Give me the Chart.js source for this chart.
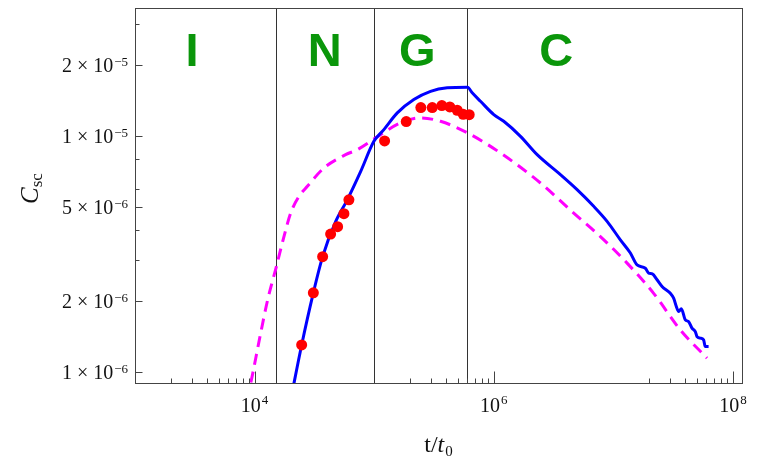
<!DOCTYPE html>
<html>
<head>
<meta charset="utf-8">
<script src="https://cdn.jsdelivr.net/npm/chart.js@4.4.0/dist/chart.umd.min.js"></script>
<style>
  html, body { margin: 0; padding: 0; background: #fff; }
</style>
</head>
<body>
<canvas id="chart" width="763" height="460"></canvas>
<script>
// solid blue model curve
const modelT = [20030, 24750, 30990, 37060, 47600, 59600, 76970, 99430, 1.205e5, 1.56e5, 2.146e5, 2.96e5, 4.08e5, 6.03e5,
    6.6e5, 7.74e5, 1.0e6, 1.212e6, 1.672e6, 2.305e6, 3.607e6, 4.973e6, 6.845e6, 8.86e6, 1.144e7, 1.387e7, 1.578e7,
    1.851e7, 1.972e7, 2.118e7, 2.318e7, 2.553e7, 2.994e7, 3.19e7, 3.36e7, 3.513e7, 3.70e7, 3.995e7, 4.256e7, 4.544e7,
    4.842e7, 5.003e7, 5.33e7, 5.68e7, 5.87e7, 6.254e7];
const modelC = [7.63e-7, 1.305e-6, 2.17e-6, 3.09e-6, 4.35e-6, 5.38e-6, 7.08e-6, 9.52e-6, 1.068e-5, 1.257e-5, 1.432e-5,
    1.552e-5, 1.605e-5, 1.614e-5, 1.529e-5, 1.408e-5, 1.236e-5, 1.158e-5, 1.0e-5, 8.36e-6, 6.88e-6, 5.94e-6, 5.05e-6,
    4.36e-6, 3.64e-6, 3.20e-6, 2.85e-6, 2.76e-6, 2.63e-6, 2.61e-6, 2.465e-6, 2.31e-6, 2.16e-6, 2.06e-6, 1.90e-6,
    1.808e-6, 1.857e-6, 1.667e-6, 1.64e-6, 1.537e-6, 1.487e-6, 1.416e-6, 1.394e-6, 1.371e-6, 1.284e-6, 1.284e-6];

// dashed magenta curve
const altT = [8590, 9277, 11240, 12860, 15210, 17600, 20030, 23490, 27620, 38010, 57680, 72260, 1.131e5, 1.662e5,
    2.442e5, 3.586e5, 6.03e5, 1.138e6, 2.456e6, 4.661e6, 7.79e6, 1.302e7, 2.171e7, 3.628e7, 6.065e7];
const altC = [7.63e-7, 8.98e-7, 1.464e-6, 2.027e-6, 2.806e-6, 3.76e-6, 4.73e-6, 5.56e-6, 6.14e-6, 7.34e-6, 8.36e-6,
    8.78e-6, 1.017e-5, 1.14e-5, 1.197e-5, 1.158e-5, 1.034e-5, 8.50e-6, 6.34e-6, 4.73e-6, 3.76e-6, 2.90e-6, 2.16e-6,
    1.511e-6, 1.147e-6];

// red data points
const obsT = [24750, 30990, 37060, 43220, 49450, 55830, 61450, 1.222e5, 1.854e5, 2.455e5, 3.058e5, 3.679e5, 4.29e5,
    4.945e5, 5.55e5, 6.23e5];
const obsC = [1.305e-6, 2.17e-6, 3.09e-6, 3.85e-6, 4.14e-6, 4.70e-6, 5.38e-6, 9.56e-6, 1.155e-5, 1.324e-5, 1.324e-5,
    1.35e-5, 1.333e-5, 1.29e-5, 1.24e-5, 1.236e-5];

// regime boundaries and names
const boundaries = [1.52e4, 1e5, 6e5];
const regimeNames = ['I', 'N', 'G', 'C'];
const regimeT = [3.0e3, 3.85e4, 2.29e5, 3.32e6];
const regimeC = 1.98e-5;

// tick labels
const xMajor = [1e4, 1e6, 1e8];
const xMajorExp = ['4', '6', '8'];
const yMajor = [1e-6, 2e-6, 5e-6, 1e-5, 2e-5];
const yMajorMant = ['1', '2', '5', '1', '2'];
const yMajorExp = ['\u22126', '\u22126', '\u22126', '\u22125', '\u22125'];
const yMinor = [3e-6, 4e-6, 6e-6, 8e-6, 3e-5];

const xMinor = [];
[1e3, 1e5, 1e7].forEach(d => {
    for (let j = 2; j <= 9; j++) xMinor.push(j * d);
});

const toPts = (xs, ys) => xs.map((x, i) => ({ x, y: ys[i] }));

const SERIF = '"Liberation Serif", "DejaVu Serif", serif';
const AXIS = '#444';

const framePlugin = {
    id: 'frame',
    beforeDatasetsDraw(chart) {
        const { ctx, chartArea: a, scales: { x, y } } = chart;
        ctx.save();
        ctx.strokeStyle = '#333';
        ctx.lineWidth = 1;
        boundaries.forEach(b => {
            const px = Math.round(x.getPixelForValue(b)) + 0.5;
            ctx.beginPath();
            ctx.moveTo(px, a.top);
            ctx.lineTo(px, a.bottom);
            ctx.stroke();
        });
        ctx.fillStyle = 'rgb(10,150,10)';
        ctx.font = 'bold 47px "Liberation Sans", Arial, sans-serif';
        ctx.textAlign = 'center';
        ctx.textBaseline = 'alphabetic';
        regimeNames.forEach((n, i) => {
            ctx.fillText(n, x.getPixelForValue(regimeT[i]), y.getPixelForValue(regimeC));
        });
        ctx.restore();
    },
    afterDraw(chart) {
        const { ctx, chartArea: a, scales: { x, y } } = chart;
        const L = Math.round(a.left) + 0.5, R = Math.round(a.right) + 0.5;
        const T = Math.round(a.top) + 0.5, B = Math.round(a.bottom) + 0.5;
        ctx.save();
        ctx.strokeStyle = AXIS;
        ctx.lineWidth = 1;
        ctx.strokeRect(L, T, R - L, B - T);

        // inward ticks
        ctx.beginPath();
        xMajor.forEach(v => {
            const px = Math.round(x.getPixelForValue(v)) + 0.5;
            ctx.moveTo(px, B); ctx.lineTo(px, B - 12);
        });
        xMinor.forEach(v => {
            const px = Math.round(x.getPixelForValue(v)) + 0.5;
            ctx.moveTo(px, B); ctx.lineTo(px, B - 5);
        });
        yMajor.forEach(v => {
            const py = Math.round(y.getPixelForValue(v)) + 0.5;
            ctx.moveTo(L, py); ctx.lineTo(L + 7, py);
        });
        yMinor.forEach(v => {
            const py = Math.round(y.getPixelForValue(v)) + 0.5;
            ctx.moveTo(L, py); ctx.lineTo(L + 4, py);
        });
        ctx.stroke();

        // tick labels
        ctx.fillStyle = '#111';
        ctx.textBaseline = 'alphabetic';
        ctx.textAlign = 'left';
        xMajor.forEach((v, i) => {
            const px = x.getPixelForValue(v);
            ctx.font = '20px ' + SERIF;
            const w1 = ctx.measureText('10').width;
            ctx.font = '13px ' + SERIF;
            const w2 = ctx.measureText(xMajorExp[i]).width;
            const x0 = px - (w1 + w2 + 1) / 2;
            ctx.font = '20px ' + SERIF;
            ctx.fillText('10', x0, 412);
            ctx.font = '13px ' + SERIF;
            ctx.fillText(xMajorExp[i], x0 + w1 + 1, 404);
        });
        yMajor.forEach((v, i) => {
            const py = y.getPixelForValue(v) + 7;
            ctx.font = '13px ' + SERIF;
            const wE = ctx.measureText(yMajorExp[i]).width;
            ctx.font = '20px ' + SERIF;
            const main = yMajorMant[i] + ' \u00d7 10';
            const wM = ctx.measureText(main).width;
            const xr = 128;
            ctx.fillText(main, xr - wE - 1 - wM, py);
            ctx.font = '13px ' + SERIF;
            ctx.fillText(yMajorExp[i], xr - wE, py - 6);
        });

        // axis titles
        ctx.font = '24px ' + SERIF;
        const tW = ctx.measureText('t/').width;
        ctx.font = 'italic 24px ' + SERIF;
        const t2W = ctx.measureText('t').width;
        ctx.font = '15px ' + SERIF;
        const zW = ctx.measureText('0').width;
        let tx = 438 - (tW + t2W + zW) / 2;
        ctx.font = '24px ' + SERIF;
        ctx.fillText('t/', tx, 452);
        ctx.font = 'italic 24px ' + SERIF;
        ctx.fillText('t', tx + tW, 452);
        ctx.font = '15px ' + SERIF;
        ctx.fillText('0', tx + tW + t2W + 1, 456);

        ctx.translate(38, 204);
        ctx.rotate(-Math.PI / 2);
        ctx.font = 'italic 25px ' + SERIF;
        const cW = ctx.measureText('C').width;
        ctx.fillText('C', 0, 0);
        ctx.font = '17px ' + SERIF;
        ctx.fillText('sc', cW, 4);
        ctx.restore();
    }
};

new Chart(document.getElementById('chart').getContext('2d'), {
    type: 'scatter',
    data: {
        datasets: [
            {
                label: 'data',
                data: toPts(obsT, obsC),
                backgroundColor: '#ff0000',
                borderWidth: 0,
                pointRadius: 5.5,
                order: 0,
            },
            {
                label: 'model',
                data: toPts(modelT, modelC),
                showLine: true,
                borderColor: '#0000ff',
                borderWidth: 3,
                pointRadius: 0,
                cubicInterpolationMode: 'monotone',
                clip: 0,
                order: 1,
            },
            {
                label: 'alt',
                data: toPts(altT, altC),
                showLine: true,
                borderColor: '#ff00ff',
                borderWidth: 3,
                borderDash: [11, 7],
                pointRadius: 0,
                cubicInterpolationMode: 'monotone',
                clip: 0,
                order: 2,
            },
        ],
    },
    options: {
        responsive: false,
        animation: false,
        devicePixelRatio: 1,
        layout: { padding: { left: 135, right: 21, top: 8, bottom: 77 } },
        plugins: { legend: { display: false }, tooltip: { enabled: false } },
        scales: {
            x: { type: 'logarithmic', min: 1000, max: 1.19e8, display: false },
            y: { type: 'logarithmic', min: 9.0e-7, max: 3.5e-5, display: false },
        },
    },
    plugins: [framePlugin],
});
</script>
</body>
</html>
